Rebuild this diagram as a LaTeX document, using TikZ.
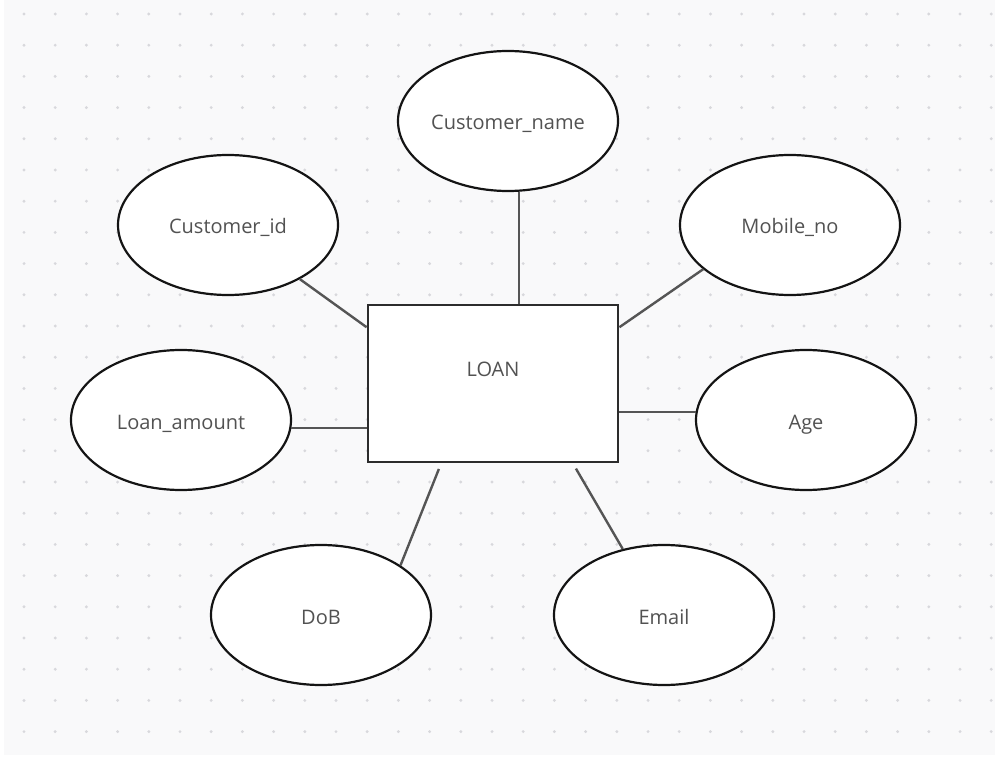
\documentclass[tikz,border=0pt]{standalone}
\usepackage{fontspec}
\setmainfont{Open Sans}
\usetikzlibrary{shapes.geometric}
\definecolor{canvasgray}{RGB}{249,249,250}
\definecolor{dotgray}{RGB}{216,216,220}
\definecolor{linkgray}{RGB}{85,85,85}
\definecolor{labelgray}{RGB}{82,82,82}
\definecolor{edgeblack}{RGB}{20,20,20}

\begin{document}
\begin{tikzpicture}[x=0.5pt, y=-0.5pt,
        attr/.style={ellipse, draw=edgeblack, line width=1.1pt, fill=white,
            minimum width=110pt, minimum height=70pt, inner sep=0pt,
            text height=10pt, text depth=1pt,
            text=labelgray, font=\fontsize{10}{12}\selectfont},
        entity/.style={rectangle, draw=edgeblack!90, line width=1.4pt, fill=white,
            minimum width=125pt, minimum height=78.5pt, inner sep=0pt},
        link/.style={draw=linkgray, line width=1.2pt},
        gap/.style={shorten <=3pt}]
            \useasboundingbox (0,0) rectangle (995,759);
            \fill[white] (0,0) rectangle (995,759);
            \fill[canvasgray] (4,0) rectangle (995,755);
            \foreach \i in {0,...,31}
                \foreach \j in {0,...,23}
                    \fill[dotgray] (24+31.2*\i, 14+31.2*\j) circle (0.8pt);

            \node[entity, label={[text=labelgray, font=\fontsize{10}{12}\selectfont, yshift=7pt]center:LOAN}] (loan) at (493,383.5) {};

            \node[attr] (cname) at (508,121) {Customer\_name};
            \node[attr] (cid) at (228,225) {Customer\_id};
            \node[attr] (mobile) at (790,225) {Mobile\_no};
            \node[attr] (lamount) at (181,420) {Loan\_amount};
            \node[attr] (age) at (806,420) {Age};
            \node[attr] (dob) at (321,615) {DoB};
            \node[attr] (email) at (664,615) {Email};

            \draw[link] (cname.-81) -- (cname.-81 |- loan.north);
            \draw[link] (cid.-37) -- (loan.156);
            \draw[link] (mobile.-153) -- (loan.24);
            \draw[link] (lamount.-4) -- (lamount.-4 -| loan.west);
            \draw[link] (age.176) -- (age.176 -| loan.east);
            \draw[link, gap] (loan.-123) -- (dob.32);
            \draw[link, gap] (loan.-45) -- (email.122);
        \end{tikzpicture}
\end{document}
